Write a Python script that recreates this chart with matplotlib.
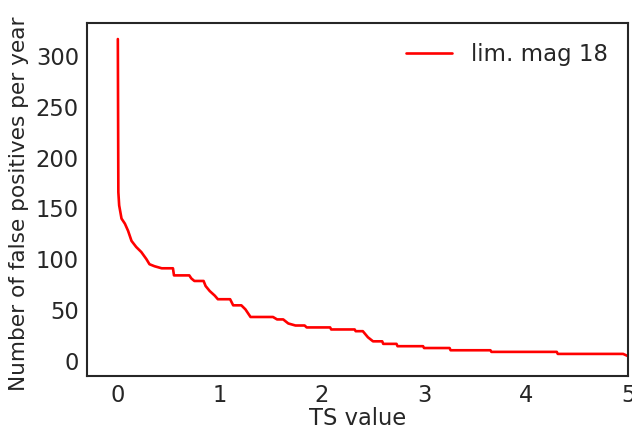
import numpy as np
import matplotlib
matplotlib.use("Agg")
import matplotlib.pyplot as plt
import seaborn as sns

# Breakpoints of the false-positive curve
ts_value = [0.0, 0.005, 0.013, 0.036, 0.069, 0.10, 0.134, 0.18, 0.23, 0.28, 0.31,
            0.36, 0.43, 0.54, 0.55, 0.70, 0.72, 0.75, 0.84, 0.86, 0.90, 0.95, 0.98,
            1.10, 1.13, 1.21, 1.25, 1.30, 1.52, 1.56, 1.62, 1.67, 1.74, 1.83, 1.85,
            2.08, 2.09, 2.32, 2.33, 2.40, 2.45, 2.50, 2.59, 2.60, 2.73, 2.74, 2.99,
            3.00, 3.25, 3.26, 3.65, 3.66, 4.30, 4.31, 4.95, 5.0]
false_pos = [317, 166, 153, 140, 135, 128, 118, 112, 107, 100, 95,
             93, 91, 91, 84, 84, 81, 78.5, 78.5, 73.5, 68.6, 64, 60.5,
             60.5, 54.5, 54.5, 50.5, 43, 43, 40.6, 40.6, 36.6, 34.6, 34.6, 32.7,
             32.7, 30.7, 30.7, 29, 29, 23, 19, 19, 16.5, 16.5, 14.2, 14.2,
             12.4, 12.4, 10.2, 10.2, 8.6, 8.6, 6.6, 6.6, 4.3]

sns.set_style("white")
plt.rcParams['font.family'] = ['DejaVu Sans']

fig, ax = plt.subplots(figsize=(6.32, 4.3), dpi=100)
ax.plot(ts_value, false_pos, color='red', linewidth=1.9, label='lim. mag 18')

ax.set_xlim(-0.3, 5)
ax.set_ylim(-15, 333)
ax.set_xticks([0, 1, 2, 3, 4, 5])
ax.set_yticks([0, 50, 100, 150, 200, 250, 300])
ax.set_xlabel('TS value', fontsize=16.3, labelpad=0)
ax.set_ylabel('Number of false positives per year', fontsize=15.6)
ax.yaxis.set_label_coords(-0.108, 0.487)
ax.tick_params(labelsize=16.3, length=0, pad=6)
for s in ax.spines.values():
    s.set_linewidth(1.5)
ax.legend(loc='upper right', fontsize=16.5, frameon=False, handlelength=2.0)

plt.subplots_adjust(left=0.138, right=0.994, top=0.947, bottom=0.126)
plt.savefig('out.png')
